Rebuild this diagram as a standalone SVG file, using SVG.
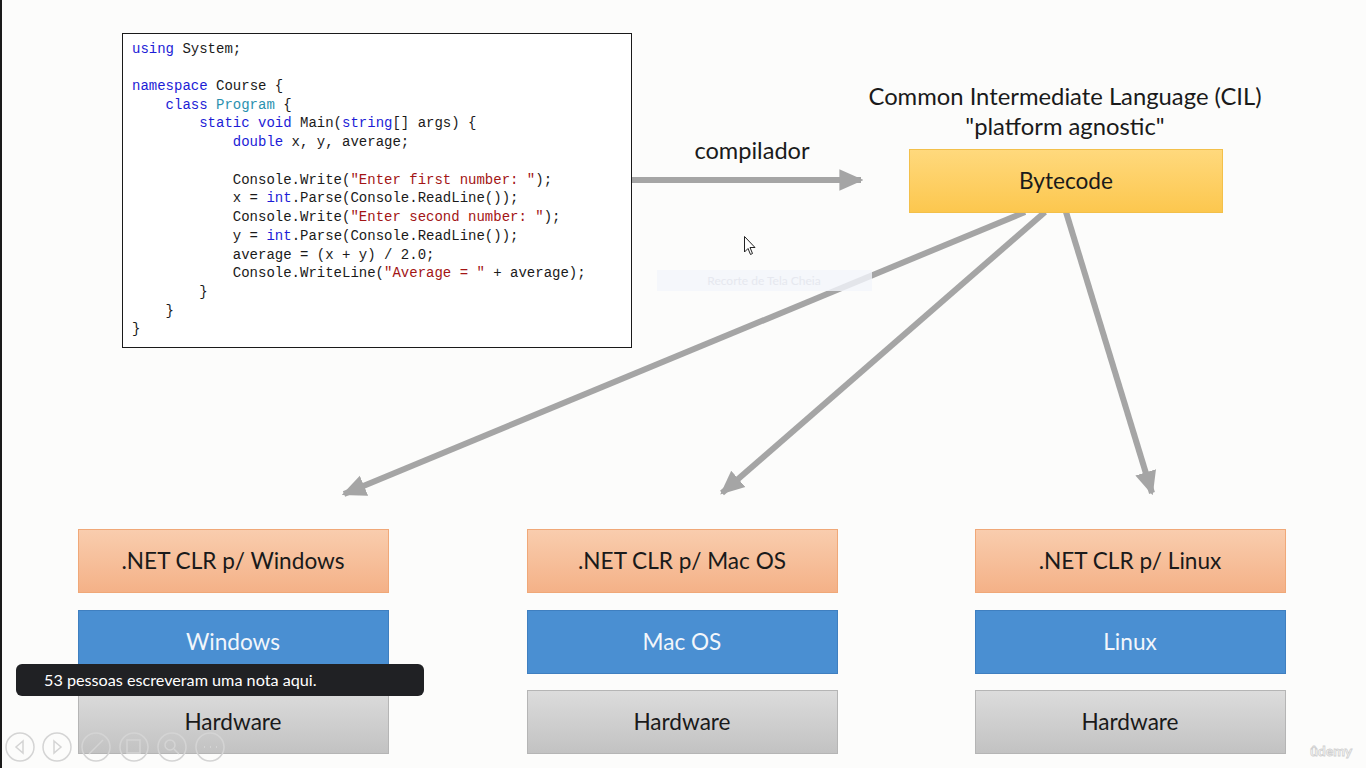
<svg xmlns="http://www.w3.org/2000/svg" width="1366" height="768" viewBox="0 0 1366 768">
<defs>
<style>
.t{font-family:Lato,"Open Sans","Liberation Sans",sans-serif;fill:#1a1a1a;text-anchor:middle}
.code{font-family:"Liberation Mono","DejaVu Sans Mono",monospace;font-size:14px;fill:#1a1a1a}
.kw{fill:#1c1cd6}
.ty{fill:#2b91af}
.st{fill:#a31515}
.conn{stroke:#a5a5a5;stroke-width:6;fill:none}
.clr{stroke:#f0a878;stroke-width:1}
.os{fill:#4a8fd2;stroke:#3f7fc0;stroke-width:1}
.hw{stroke:#b5b5b5;stroke-width:1}
.tb{fill:none;stroke:#d4d4d4;stroke-width:1.5}
</style>
<linearGradient id="gY" x1="0" y1="0" x2="0" y2="1"><stop offset="0" stop-color="#ffd97d"/><stop offset="1" stop-color="#fcc74e"/></linearGradient>
<linearGradient id="gO" x1="0" y1="0" x2="0" y2="1"><stop offset="0" stop-color="#f9cdae"/><stop offset="1" stop-color="#f4b187"/></linearGradient>
<linearGradient id="gG" x1="0" y1="0" x2="0" y2="1"><stop offset="0" stop-color="#dcdcdc"/><stop offset="1" stop-color="#c2c2c2"/></linearGradient>
<marker id="ah" markerWidth="4" markerHeight="4" refX="3.6" refY="2" orient="auto" markerUnits="strokeWidth" viewBox="0 0 4 4"><path d="M0,0.2 L4,2 L0,3.8 Z" fill="#a5a5a5"/></marker>
</defs>
<rect x="0" y="0" width="1366" height="768" fill="#fcfcfb"/>
<rect x="0" y="0" width="2" height="768" fill="#1a1a1a"/>

<g id="code">
<rect x="122.5" y="33.5" width="509" height="314" fill="#ffffff" stroke="#1a1a1a" stroke-width="1"/>
<text class="code" xml:space="preserve" x="132" y="53"><tspan class="kw">using</tspan> System;</text>
<text class="code" xml:space="preserve" x="132" y="90"><tspan class="kw">namespace</tspan> Course {</text>
<text class="code" xml:space="preserve" x="165.6" y="109"><tspan class="kw">class</tspan> <tspan class="ty">Program</tspan> {</text>
<text class="code" xml:space="preserve" x="199.2" y="127"><tspan class="kw">static void</tspan> Main(<tspan class="kw">string</tspan>[] args) {</text>
<text class="code" xml:space="preserve" x="232.8" y="146"><tspan class="kw">double</tspan> x, y, average;</text>
<text class="code" xml:space="preserve" x="232.8" y="184">Console.Write(<tspan class="st">"Enter first number: "</tspan>);</text>
<text class="code" xml:space="preserve" x="232.8" y="202">x = <tspan class="kw">int</tspan>.Parse(Console.ReadLine());</text>
<text class="code" xml:space="preserve" x="232.8" y="221">Console.Write(<tspan class="st">"Enter second number: "</tspan>);</text>
<text class="code" xml:space="preserve" x="232.8" y="240">y = <tspan class="kw">int</tspan>.Parse(Console.ReadLine());</text>
<text class="code" xml:space="preserve" x="232.8" y="259">average = (x + y) / 2.0;</text>
<text class="code" xml:space="preserve" x="232.8" y="277">Console.WriteLine(<tspan class="st">"Average = "</tspan> + average);</text>
<text class="code" x="199.2" y="296">}</text>
<text class="code" x="165.6" y="315">}</text>
<text class="code" x="132" y="333">}</text>
</g>

<g id="connectors">
<line class="conn" x1="632" y1="180" x2="861" y2="180" marker-end="url(#ah)"/>
<line class="conn" x1="1025" y1="212" x2="344" y2="494" marker-end="url(#ah)"/>
<line class="conn" x1="1045" y1="212" x2="722" y2="493" marker-end="url(#ah)"/>
<line class="conn" x1="1066" y1="212" x2="1152" y2="493" marker-end="url(#ah)"/>
<text class="t" x="752" y="159" font-size="23.6">compilador</text>
</g>

<g id="cil">
<text class="t" x="1065" y="105" font-size="23.8">Common Intermediate Language (CIL)</text>
<text class="t" x="1065" y="135" font-size="23.8">"platform agnostic"</text>
<rect x="909.5" y="149.5" width="313" height="63" fill="url(#gY)" stroke="#f3c04a" stroke-width="1"/>
<text class="t" x="1066" y="189" font-size="22.6">Bytecode</text>
</g>

<g id="clr-windows">
<rect class="clr" x="78.5" y="529.5" width="310" height="63" fill="url(#gO)"/>
<text class="t" x="233" y="569" font-size="22.6">.NET CLR p/ Windows</text>
</g>
<g id="clr-mac">
<rect class="clr" x="527.5" y="529.5" width="310" height="63" fill="url(#gO)"/>
<text class="t" x="682" y="569" font-size="22.6">.NET CLR p/ Mac OS</text>
</g>
<g id="clr-linux">
<rect class="clr" x="975.5" y="529.5" width="310" height="63" fill="url(#gO)"/>
<text class="t" x="1130" y="569" font-size="22.6">.NET CLR p/ Linux</text>
</g>

<g id="os-windows">
<rect class="os" x="78.5" y="610.5" width="310" height="63"/>
<text class="t" x="233" y="650" font-size="22.6" style="fill:#f2f6fb">Windows</text>
</g>
<g id="os-mac">
<rect class="os" x="527.5" y="610.5" width="310" height="63"/>
<text class="t" x="682" y="650" font-size="22.6" style="fill:#f2f6fb">Mac OS</text>
</g>
<g id="os-linux">
<rect class="os" x="975.5" y="610.5" width="310" height="63"/>
<text class="t" x="1130" y="650" font-size="22.6" style="fill:#f2f6fb">Linux</text>
</g>

<g id="hw-windows">
<rect class="hw" x="78.5" y="690.5" width="310" height="63" fill="url(#gG)"/>
<text class="t" x="233" y="730" font-size="22.6">Hardware</text>
</g>
<g id="hw-mac">
<rect class="hw" x="527.5" y="690.5" width="310" height="63" fill="url(#gG)"/>
<text class="t" x="682" y="730" font-size="22.6">Hardware</text>
</g>
<g id="hw-linux">
<rect class="hw" x="975.5" y="690.5" width="310" height="63" fill="url(#gG)"/>
<text class="t" x="1130" y="730" font-size="22.6">Hardware</text>
</g>

<g id="overlay-tip">
<rect x="657" y="270" width="215" height="21" fill="#f3f5fb" opacity="0.8"/>
<text x="764" y="285" font-family="Lato,'Open Sans',sans-serif" font-size="12" fill="#e6e8ef" text-anchor="middle">Recorte de Tela Cheia</text>
</g>

<g id="cursor">
<path d="M744.5,236.5 L744.5,252 L748,248.5 L750.5,254.5 L752.5,253.5 L750,247.5 L755,247.5 Z" fill="#ffffff" stroke="#222" stroke-width="1"/>
</g>

<g id="toolbar">
<circle class="tb" cx="20" cy="747" r="14"/><path class="tb" d="M23,741 L16,747 L23,753 Z"/>
<circle class="tb" cx="57" cy="747" r="14"/><path class="tb" d="M54,741 L61,747 L54,753 Z"/>
<circle class="tb" cx="96" cy="747" r="14"/><path class="tb" d="M89,754 L103,740"/>
<circle class="tb" cx="134" cy="747" r="14"/><rect class="tb" x="127" y="740" width="13" height="13"/>
<circle class="tb" cx="172" cy="747" r="14"/><circle class="tb" cx="170" cy="745" r="5"/><path class="tb" d="M174,749 L179,754"/>
<circle class="tb" cx="210" cy="747" r="14"/><path d="M204,747h1M210,747h1M216,747h1" stroke="#d4d4d4" stroke-width="2"/>
</g>

<g id="note">
<rect x="16" y="664" width="408" height="32" rx="6" fill="#202124"/>
<text x="44" y="686" font-family="Lato,'Open Sans','Liberation Sans',sans-serif" font-size="16.2" fill="#ffffff">53 pessoas escreveram uma nota aqui.</text>
</g>

<text x="1331" y="756" font-family="Lato,'Open Sans',sans-serif" font-size="14" font-weight="bold" fill="#fcfcfb" stroke="#d0d0d0" stroke-width="0.8" text-anchor="middle">ûdemy</text>
<rect x="1362" y="0" width="4" height="768" fill="#fcfcfb"/>
</svg>
